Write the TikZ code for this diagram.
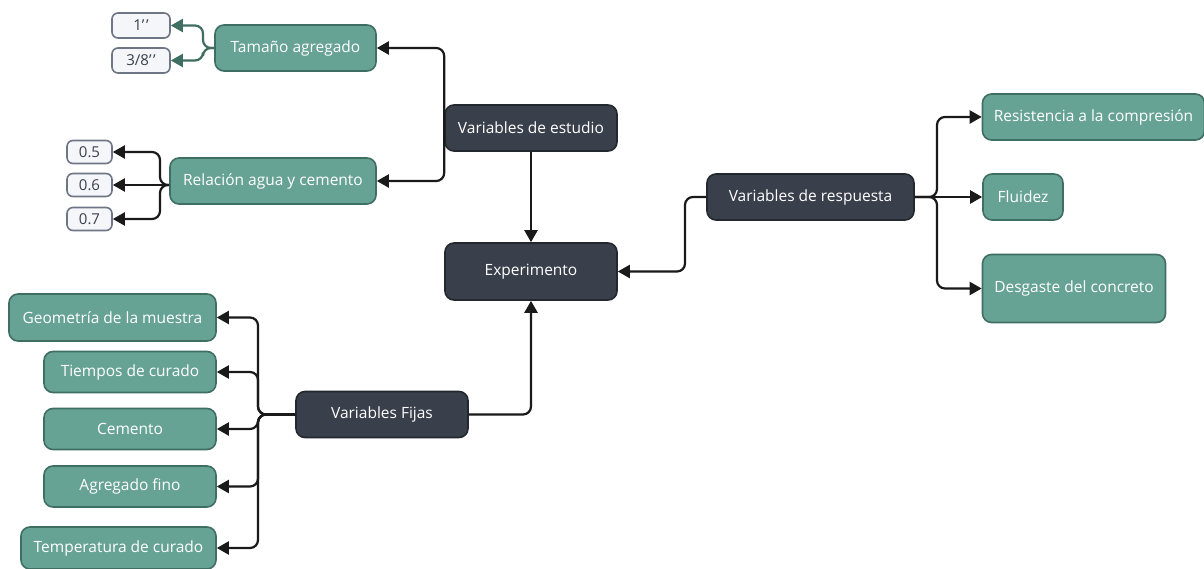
\documentclass[tikz,border=0pt]{standalone}
\usepackage{fontspec}
\setmainfont{Open Sans}
\usetikzlibrary{arrows.meta,calc}
\definecolor{teal}{HTML}{67A395}
\definecolor{tealdk}{HTML}{3F6E63}
\definecolor{dark}{HTML}{3A404B}
\definecolor{darkbd}{HTML}{23272E}
\definecolor{smallfill}{HTML}{F4F6FA}
\definecolor{smallbd}{HTML}{6E7585}
\definecolor{smalltxt}{HTML}{3A404B}
\definecolor{lineblk}{HTML}{1A1A1A}
\tikzset{
  box/.style={rounded corners=9pt, line width=1.6pt, inner sep=0pt, font=\fontsize{15.5}{18}\selectfont, text=white},
  tbox/.style={box, fill=teal, draw=tealdk},
  dbox/.style={box, fill=dark, draw=darkbd},
  sbox/.style={rounded corners=6pt, line width=1.6pt, inner sep=0pt, fill=smallfill, draw=smallbd, text=smalltxt, font=\fontsize{15}{17}\selectfont, minimum width=45pt, minimum height=23pt},
  conn/.style={line width=2.2pt, draw=lineblk, rounded corners=8pt, -{Triangle[length=12pt,width=13pt]}},
  tconn/.style={line width=2.2pt, draw=tealdk, rounded corners=8pt, -{Triangle[length=12pt,width=13pt,fill=tealdk]}}
}
\newcommand{\pr}{’\kern1.5pt’}
\begin{document}
\begin{tikzpicture}[x=1pt,y=-1pt]
\useasboundingbox[fill=white] (0,0) rectangle (1204,569);
% dark nodes
\node[dbox, minimum width=172pt, minimum height=46pt] (ve) at (531,128) {Variables de estudio};
\node[dbox, minimum width=172pt, minimum height=57pt] (ex) at (531,271.5) {Experimento};
\node[dbox, minimum width=207pt, minimum height=46pt] (vr) at (810.5,197) {Variables de respuesta};
\node[dbox, minimum width=172pt, minimum height=46pt] (vf) at (382,414.5) {Variables Fijas};
% teal nodes
\node[tbox, minimum width=161pt, minimum height=46pt] (ta) at (295.5,48) {Tamaño agregado};
\node[tbox, minimum width=206pt, minimum height=46pt] (ra) at (273,181) {Relación agua y cemento};
\node[tbox, minimum width=222pt, minimum height=46pt] (rc) at (1093.5,117) {Resistencia a la compresión};
\node[tbox, minimum width=80pt, minimum height=46pt] (fl) at (1023,197) {Fluidez};
\node[tbox, minimum width=183pt, minimum height=68pt] (dc) at (1074,288.5) {Desgaste del concreto};
\node[tbox, minimum width=207pt, minimum height=47pt] (ge) at (112.5,317.5) {Geometría de la muestra};
\node[tbox, minimum width=172pt, minimum height=41pt] (ti) at (130,372) {Tiempos de curado};
\node[tbox, minimum width=172pt, minimum height=41pt] (ce) at (130,429) {Cemento};
\node[tbox, minimum width=172pt, minimum height=41pt] (ag) at (130,486.5) {Agregado fino};
\node[tbox, minimum width=195pt, minimum height=42pt] (te) at (118.5,548) {Temperatura de curado};
% small nodes
\node[sbox, minimum width=58pt, minimum height=25pt] (u1) at (141,25.5) {1\pr};
\node[sbox, minimum width=58pt, minimum height=25pt] (u2) at (141,60.5) {3/8\pr};
\node[sbox] (r5) at (89.5,152) {0.5};
\node[sbox] (r6) at (89.5,185) {0.6};
\node[sbox] (r7) at (89.5,219) {0.7};
% junction coordinates
\coordinate (jt) at (203,48);
\coordinate (jr) at (160,185);
\coordinate (jf) at (258,414.5);
\coordinate (jv) at (937,197);
\coordinate (jl) at (685,197);
% connectors
\draw[conn] (ve.west) |- (ta.east);
\draw[conn] (ve.west) |- (ra.east);
\draw[conn] (ve.south) -- (ex.north);
\draw[conn] (vr.west) -- (jl) |- (ex.east);
\draw[conn] (vf.east) -| (ex.south);
\draw[conn] (vr.east) -- (jv) |- (rc.west);
\draw[conn] (vr.east) -- (fl.west);
\draw[conn] (vr.east) -- (jv) |- (dc.west);
\draw[conn] (vf.west) -- (jf) |- (ge.east);
\draw[conn] (vf.west) -- (jf) |- (ti.east);
\draw[conn] (vf.west) -- (jf) |- (ce.east);
\draw[conn] (vf.west) -- (jf) |- (ag.east);
\draw[conn] (vf.west) -- (jf) |- (te.east);
\draw[conn] (ra.west |- r6.east) -- (jr) |- (r5.east);
\draw[conn] (ra.west |- r6.east) -- (r6.east);
\draw[conn] (ra.west |- r6.east) -- (jr) |- (r7.east);
\draw[tconn] (ta.west) -- (jt) |- (u1.east);
\draw[tconn] (ta.west) -- (jt) |- (u2.east);
\end{tikzpicture}
\end{document}
